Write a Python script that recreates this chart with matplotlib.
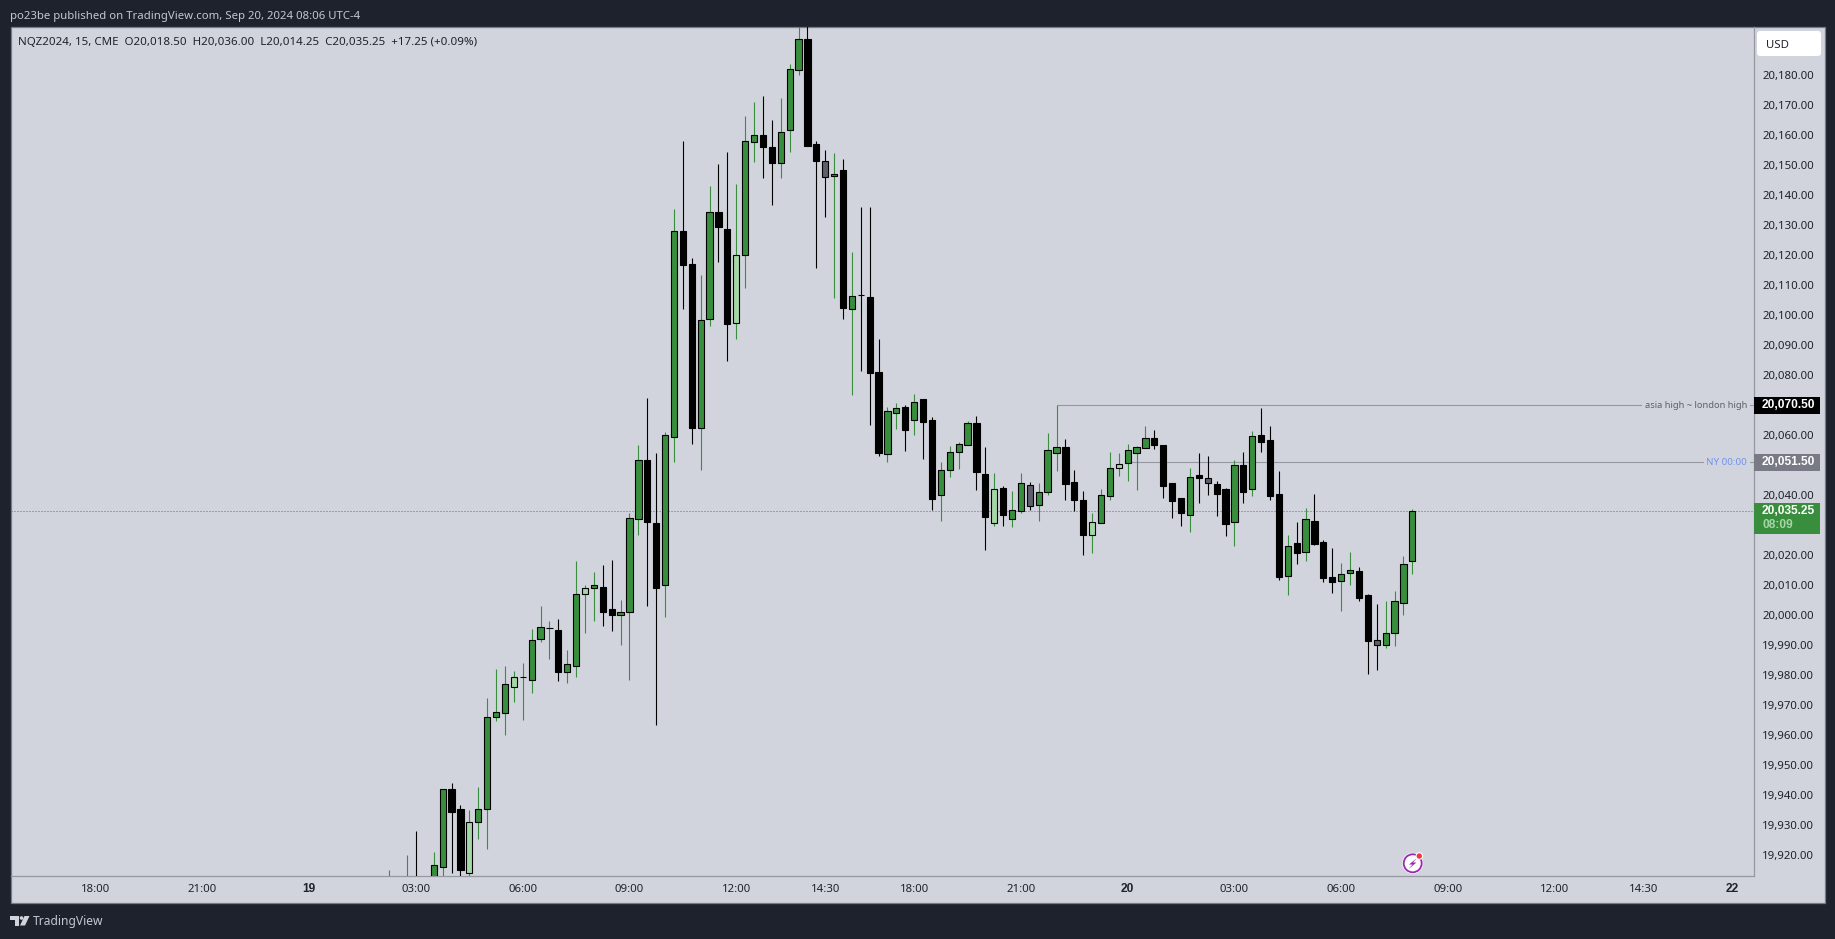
import numpy as np
import matplotlib

matplotlib.use("Agg")
import matplotlib.pyplot as plt
from matplotlib.patches import Rectangle, FancyBboxPatch, Circle, Polygon
from matplotlib.transforms import ScaledTranslation

plt.rcParams["font.family"] = ["Noto Sans", "DejaVu Sans"]

# NQZ2024, 15 min bars (first few sit under the time axis)
opens = [19905, 19908, 19903, 19910, 19905, 19908, 19916.75, 19942.5, 19936, 19914.75,
         19931.75, 19936, 19966.5, 19968, 19976.75, 19980, 19979, 19992.5, 19996.25, 19995.5,
         19981.75, 19983.5, 20007.5, 20009.5, 20010, 20002.5, 20000.5, 20001.5, 20032.75, 20052.25,
         20031.25, 20010.75, 20060, 20128.5, 20117.5, 20063, 20099.25, 20135, 20129.25, 20098,
         20120.75, 20158.25, 20160.5, 20156.5, 20151.25, 20162.25, 20182.25, 20192.5, 20157.5, 20152,
         20147, 20149, 20102.75, 20107.25, 20106.5, 20081.5, 20054.25, 20068, 20070, 20065.75,
         20072.5, 20065.5, 20040.75, 20049, 20055, 20057.25, 20064.5, 20047.5, 20031.25, 20043,
         20032.75, 20035.25, 20044, 20037.25, 20041.75, 20054.75, 20056.5, 20045, 20039, 20027.25,
         20031.25, 20040.25, 20049.75, 20051.25, 20054.75, 20056.25, 20059.5, 20057.25, 20044.5, 20039.5,
         20034, 20047.25, 20046.25, 20044.25, 20042.5, 20031.5, 20050.5, 20042.5, 20060.5, 20059,
         20041, 20013.5, 20024.5, 20021.5, 20032, 20025, 20013.25, 20012, 20014.75, 20015.25,
         20007.25, 19992.25, 19990.5, 19994.75, 20004.5, 20018.5]
highs = [19915.5, 19912, 19920.5, 19928.5, 19912, 19921.5, 19942.5, 19944.5, 19937.25, 19935.5,
         19943.25, 19973, 19982.5, 19983.5, 19982, 19984.5, 19996, 20003.5, 19998.5, 19999.25,
         19989, 20018.5, 20010.5, 20015, 20017.25, 20019, 20005.5, 20034.5, 20057.25, 20073,
         20054.5, 20061.5, 20136, 20158.5, 20119.5, 20114, 20143.5, 20151, 20155, 20144.25,
         20167, 20171.5, 20173.5, 20165.5, 20173, 20184.25, 20199, 20199, 20158.5, 20155.5,
         20154.5, 20152.5, 20121.5, 20136.5, 20136.5, 20092.5, 20070, 20071.25, 20070.5, 20074.25,
         20072.5, 20066.5, 20051.5, 20057, 20058.25, 20065.25, 20067, 20056.5, 20048, 20043.5,
         20042, 20048, 20045, 20044.5, 20061.25, 20070.5, 20059.25, 20049, 20042, 20034.5,
         20042.5, 20055, 20054.5, 20057.5, 20057, 20063.5, 20062.25, 20057.25, 20044.5, 20039.5,
         20049.5, 20054.5, 20053.5, 20045.25, 20043, 20052.25, 20055, 20062, 20069.5, 20063.5,
         20048.5, 20027.25, 20031.5, 20036.25, 20041, 20025.5, 20023, 20018, 20021.5, 20016.5,
         20007.5, 20004.25, 20005.25, 20008.5, 20020.25, 20036]
lows = [19900, 19900, 19898, 19900, 19898, 19903, 19913, 19914.75, 19912, 19913.5,
        19926, 19922.75, 19965.25, 19960.5, 19971.5, 19965.5, 19974.5, 19991.5, 19986, 19978.5,
        19978, 19980, 19994.75, 19998.5, 19997, 19995.25, 19990.5, 19979, 20027.25, 20003.5,
        19964, 20000, 20051.5, 20102.5, 20057.5, 20049, 20097, 20118.25, 20085.25, 20092.5,
        20109.5, 20151.5, 20146.25, 20137.25, 20146.25, 20155, 20180.5, 20157, 20116.25, 20133.25,
        20106.25, 20099.25, 20074, 20082, 20064, 20053.5, 20051.5, 20062.5, 20055.25, 20060.5,
        20052.5, 20035.5, 20032, 20046.5, 20049.25, 20057.25, 20042.25, 20022.25, 20030.25, 20030.25,
        20030, 20034.5, 20035.5, 20032, 20040.5, 20048.5, 20039, 20035.25, 20020.5, 20021.25,
        20031.25, 20039, 20047, 20045.25, 20042.25, 20056.25, 20056, 20039.5, 20033, 20030.25,
        20028.25, 20038, 20040.5, 20033.5, 20027, 20023.5, 20038, 20040.25, 20055, 20039,
        20012.25, 20007.25, 20017.5, 20018.5, 20024, 20011.5, 20008, 20002, 20010.5, 20005.25,
        19981, 19982.25, 19989.5, 19990.25, 20000.5, 20014.25]
closes = [19908, 19903, 19910, 19905, 19908, 19917.25, 19942.5, 19935, 19915.5, 19931.5,
          19936, 19966.5, 19968.25, 19977.5, 19980, 19980, 19992.25, 19996.5, 19996.25, 19981.75,
          19984.25, 20007.5, 20009.5, 20010.5, 20001.5, 20000.5, 20001.5, 20033, 20052.25, 20031.75,
          20009.5, 20060.5, 20128.75, 20117.25, 20063, 20099, 20135, 20130, 20097.5, 20120.5,
          20158.5, 20160.5, 20156.75, 20151.25, 20161.75, 20182.5, 20192.75, 20157, 20152, 20146.75,
          20147.75, 20103, 20107, 20107.25, 20081.25, 20054.5, 20068.5, 20069.5, 20062.25, 20071.5,
          20065, 20039.25, 20049, 20055, 20057.75, 20064.75, 20048.25, 20033.25, 20042.5, 20034,
          20035.75, 20044.5, 20037, 20041.5, 20055.5, 20056.75, 20044.25, 20039, 20027.25, 20031.75,
          20040.5, 20049.75, 20051, 20055.5, 20056.5, 20059.5, 20057.25, 20043.5, 20038.75, 20034.75,
          20046.75, 20046.25, 20044.5, 20041, 20031, 20050.75, 20041.5, 20060.25, 20058.25, 20040.25,
          20013.25, 20023.75, 20021.25, 20032.5, 20024.25, 20013, 20011.5, 20014.25, 20015.5, 20006.25,
          19992, 19990.5, 19994.5, 20005.25, 20017.75, 20035.25]

# which bars are green, light green or grey, the rest are black
bull = [0, 2, 5, 6, 10, 11, 12, 13, 15, 16, 17, 18, 20, 21, 23, 26, 27, 28, 31, 32, 35, 36, 40, 41, 44, 45, 46,
        50, 52, 56, 57, 59, 62, 63, 64, 65, 70, 71, 73, 74, 75, 80, 81, 83, 84, 85, 90, 95, 97, 101, 103,
        107, 108, 112, 113, 114, 115]
light = [9, 14, 22, 39, 68, 79, 82]
grey = [49, 72, 92, 111]

# 20,030 / 20,050 / 20,070 are covered by the price tags
price_ticks = [19920, 19930, 19940, 19950, 19960, 19970, 19980, 19990, 20000, 20010, 20020, 20040,
               20060, 20080, 20090, 20100, 20110, 20120, 20130, 20140, 20150, 20160, 20170, 20180]
tick_bars = [-33, -21, -9, 3, 15, 27, 39, 49, 59, 71, 83, 95, 107, 119, 131, 141, 151]
tick_names = ["18:00", "21:00", "19", "03:00", "06:00", "09:00", "12:00", "14:30", "18:00",
              "21:00", "20", "03:00", "06:00", "09:00", "12:00", "14:30", "22"]
day_names = ["19", "20", "22"]
asia_high = 20070.5
ny_open = 20051.5
last_close = 20035.25
asia_bar = 75
ny_bar = 83

W, H = 1835, 939
DARK = "#1e222d"
PANEL = "#d1d4dc"
GREEN = "#388e3c"
LIGHT = "#a5d6a7"
GREY = "#5d606b"
LINE = "#9598a1"
BORDER = "#787b86"
TEXT = "#1f222b"

# pixel layout of the chart pane
left, right, top, bottom = 10.5, 1753.5, 27.0, 876.0
bar_px = 8.896
first_px = 389.3
y_ref, px_per_pt = 405.3, 3.0

fig = plt.figure(figsize=(W / 100, H / 100), dpi=100, facecolor=DARK)


def pixel_axes(z):
    a = fig.add_axes([0, 0, 1, 1], zorder=z)
    a.set_xlim(0, W)
    a.set_ylim(H, 0)
    a.axis("off")
    a.patch.set_alpha(0)
    return a


under = pixel_axes(0)
over = pixel_axes(2)

under.add_patch(Rectangle((10.5, 27), 1814, 876, fc=PANEL, ec=BORDER, lw=0.9))

ax = fig.add_axes([left / W, 1 - bottom / H, (right - left) / W, (bottom - top) / H], zorder=1)
ax.patch.set_alpha(0)
ax.set_xlim((left - first_px) / bar_px, (right - first_px) / bar_px)
ax.set_ylim(asia_high - (bottom - y_ref) / px_per_pt, asia_high + (y_ref - top) / px_per_pt)
for s in ["left", "top"]:
    ax.spines[s].set_visible(False)
for s in ["right", "bottom"]:
    ax.spines[s].set_color(LINE)
    ax.spines[s].set_linewidth(0.9)

# candles
bars = np.arange(len(closes))
body_colors = []
wick_colors = []
for i in bars:
    if i in bull:
        body_colors.append(GREEN)
        wick_colors.append(GREEN)
    elif i in light:
        body_colors.append(LIGHT)
        wick_colors.append(GREEN)
    elif i in grey:
        body_colors.append(GREY)
        wick_colors.append("black")
    else:
        body_colors.append("black")
        wick_colors.append("black")

wicks = ax.vlines(bars, lows, highs, colors=wick_colors, lw=0.8, zorder=3)
wicks.set_snap(True)
o = np.array(opens)
c = np.array(closes)
ax.bar(bars, np.abs(c - o), bottom=np.minimum(o, c), width=0.7, color=body_colors,
       edgecolor="black", linewidth=0.8, zorder=4)

# level lines
x0, x1 = ax.get_xlim()
ax.hlines(last_close, x0, x1 - 0.1, colors=GREEN, lw=0.72, linestyles=(0, (1, 2)), zorder=2).set_snap(True)
ax.hlines(asia_high, asia_bar, x1, colors=LINE, lw=0.8, zorder=2).set_snap(True)
ax.hlines(ny_open, ny_bar, x1, colors=LINE, lw=0.8, zorder=2).set_snap(True)

# price and time scales
ax.yaxis.tick_right()
ax.set_yticks(price_ticks)
ax.set_yticklabels([f"{p:,.2f}" for p in price_ticks], fontsize=8.2, color=TEXT)
ax.tick_params(axis="y", length=0, pad=6.2)
up = ScaledTranslation(0, 1.5 / 100, fig.dpi_scale_trans)
for t in ax.get_yticklabels():
    t.set_transform(t.get_transform() + up)
ax.set_xticks(tick_bars)
ax.set_xticklabels(tick_names, fontsize=8.2, color=TEXT)
ax.tick_params(axis="x", length=0, pad=5.4)
for t in ax.get_xticklabels():
    if t.get_text() in day_names:
        t.set_family("Liberation Sans")
        t.set_fontsize(8.6)
        t.set_fontweight("bold")

# labels on the level lines, cut out of the line with the pane colour
over.add_patch(Rectangle((1642, 400), 107.5, 11, fc=PANEL, ec="none"))
over.text(1747, 405.8, "asia high ~ london high", ha="right", va="center", fontsize=6.7, color=GREY)
over.add_patch(Rectangle((1704, 457), 45.5, 11, fc=PANEL, ec="none"))
over.text(1747, 462.8, "NY 00:00", ha="right", va="center", fontsize=7, color="#6f93f0")

# price tags
tag_font = dict(va="center", fontsize=8.6, color="white", fontweight="bold", family="Liberation Sans")
over.add_patch(Rectangle((1754, 397.3), 66, 16.8, fc="black", ec="none"))
over.text(1762, 405.2, f"{asia_high:,.2f}", **tag_font)
over.add_patch(Rectangle((1754, 454), 66, 17, fc=BORDER, ec="none"))
over.text(1762, 462.2, f"{ny_open:,.2f}", **tag_font)
over.add_patch(Rectangle((1754, 503), 66, 31, fc=GREEN, ec="none"))
over.text(1762, 511.4, f"{last_close:,.2f}", **tag_font)
over.text(1762, 524.6, "08:09", va="center", fontsize=8.6, color=LIGHT, fontweight="bold", family="Liberation Sans")

# USD button
over.add_patch(FancyBboxPatch((1759, 33), 60, 21, boxstyle="round,pad=2,rounding_size=3", fc="white", ec="none"))
over.text(1766, 45.5, "USD", va="center", fontsize=8.2, color=TEXT)

# header and footer text
over.text(10, 16, "po23be published on TradingView.com, Sep 20, 2024 08:06 UTC-4", va="center",
          fontsize=8.2, color="#c4c7cf")
over.text(18, 42.5, "NQZ2024, 15, CME  O20,018.50  H20,036.00  L20,014.25  C20,035.25  +17.25 (+0.09%)",
          va="center", fontsize=8.3, color=TEXT)
over.text(33, 921.5, "TradingView", va="center", fontsize=8.7, color="#c4c7cf")
over.add_patch(Polygon([(10, 916), (18.5, 916), (18.5, 925.5), (14.5, 925.5), (14.5, 920), (10, 920)], fc=PANEL, ec="none"))
over.add_patch(Circle((21.5, 918), 1.8, fc=PANEL, ec="none"))
over.add_patch(Polygon([(24.5, 916), (29.5, 916), (25, 925.5), (20, 925.5)], fc=PANEL, ec="none"))

# lightning badge
over.add_patch(Circle((1412.7, 863.3), 10.5, fc="white", ec="none"))
over.add_patch(Circle((1412.7, 863.3), 9, fc="none", ec="#9c27b0", lw=1.3))
over.add_patch(Polygon([(1417, 858), (1409, 864.5), (1412.5, 864.5), (1408.5, 869), (1416.5, 862.5), (1413, 862.5)],
                       fc="#9c27b0", ec="none"))
over.add_patch(Circle((1419.3, 856), 3.8, fc="white", ec="none"))
over.add_patch(Circle((1419.3, 856), 2.7, fc="#f23645", ec="none"))

fig.savefig("out.png", dpi=100, facecolor=DARK)
